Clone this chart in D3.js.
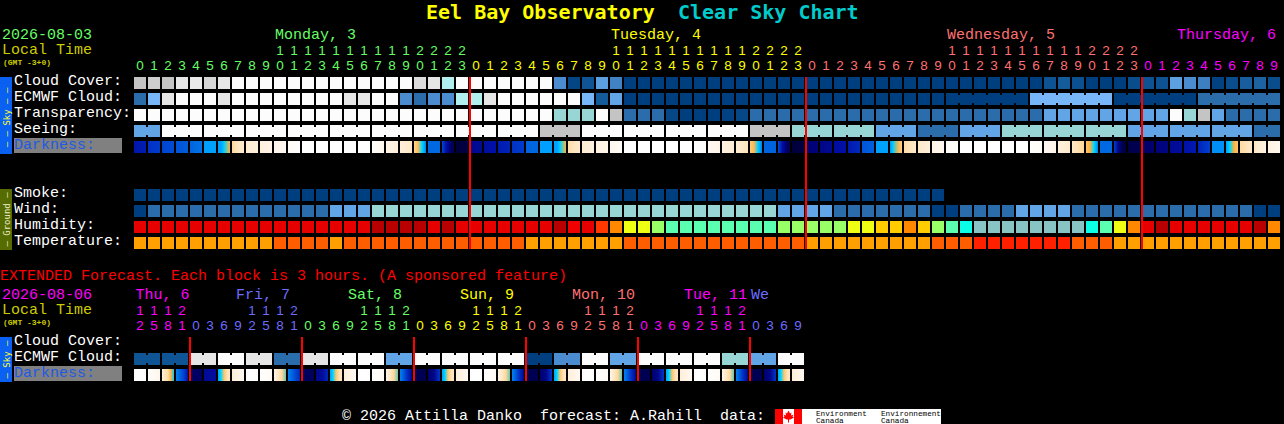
<!DOCTYPE html>
<html><head><meta charset="utf-8">
<script src="https://cdnjs.cloudflare.com/ajax/libs/d3/7.8.5/d3.min.js"></script>
<style>
html,body{margin:0;padding:0;background:#000;overflow:hidden}
svg{display:block}
text{font-family:"Liberation Mono",monospace;font-size:15px;white-space:pre}
</style></head><body>
<script>
// ---------- DATA ----------
const titleA = "Eel Bay Observatory";
const titleB = "Clear Sky Chart";
const dateMain = "2026-08-03", dateExt = "2026-08-06";
const localLabel = "Local Time", gmtLabel = "(GMT -3+0)";
const extendedNote = "EXTENDED Forecast. Each block is 3 hours. (A sponsored feature)";
const footerText = "© 2026 Attilla Danko  forecast: A.Rahill  data:";

const mainDays = ["Monday, 3","Tuesday, 4","Wednesday, 5","Thursday, 6"];
const extDays = ["Thu, 6","Fri, 7","Sat, 8","Sun, 9","Mon, 10","Tue, 11","We"];
const skyRows = ["Cloud Cover:","ECMWF Cloud:","Transparency:","Seeing:","Darkness:"];
const groundRows = ["Smoke:","Wind:","Humidity:","Temperature:"];
const extRows = ["Cloud Cover:","ECMWF Cloud:","Darkness:"];

const dayHours = [0,1,2,3,4,5,6,7,8,9,10,11,12,13,14,15,16,17,18,19,20,21,22,23];
const mainHours = [...dayHours,...dayHours,...dayHours,0,1,2,3,4,5,6,7,8,9];
const extHours = [12,15,18,21,
  0,3,6,9,12,15,18,21, 0,3,6,9,12,15,18,21, 0,3,6,9,12,15,18,21,
  0,3,6,9,12,15,18,21, 0,3,6,9,12,15,18,21, 0,3,6,9];

const cloudCover = [
 100,97,100,90,88,95,90,80,80,80,
 80,80,80,80,80,80,80,80,80,80,
 93,90,70,80,80,80,80,80,80,80,
 30,2,8,38,27,0,0,0,0,0,
 0,0,0,0,0,0,0,0,0,0,
 0,0,0,0,0,0,0,0,0,0,
 0,0,0,0,0,7,10,6,0,0,
 0,5,7,7,38,30,26,1,5,12,
 14,5];
const ecmwfCloud = [
 20,50,90,80,80,80,90,80,80,80,
 80,80,80,80,80,90,90,80,80,30,
 20,30,30,70,70,90,80,80,80,80,
 80,80,50,10,40,0,0,0,0,0,
 0,0,0,0,0,0,0,0,0,0,
 0,0,0,0,0,0,0,0,0,0,
 0,0,0,0,50,50,50,50,50,50,
 0,0,0,0,0,0,20,20,20,20,
 20,20];
const transparency = [
 80,80,80,80,80,80,80,80,80,80,
 80,80,80,80,80,80,80,80,80,80,
 80,80,80,80,80,80,80,80,80,80,
 60,60,60,80,100,20,20,20,3,0,
 0,0,1,3,20,20,20,20,20,20,
 20,20,20,20,20,20,20,20,20,20,
 20,20,20,20,20,40,40,40,40,40,
 40,40,40,40,80,60,100,40,20,20,
 20,20];
const seeing = [
 40,40,80,80,80,80,80,80,80,80,
 80,80,80,80,80,80,80,80,80,80,
 80,80,80,80,80,80,80,80,80,100,
 100,100,80,80,80,80,80,80,80,80,
 80,80,80,80,100,100,100,60,60,60,
 60,60,60,40,40,40,20,20,20,40,
 40,40,60,60,60,60,60,60,60,60,
 60,40,40,40,40,40,40,40,40,40,
 20,20];
// limiting-magnitude samples across each hourly cell
const darkness = [
 [3.9,3.7],[3.3,3.1],[2.9,2.7],[2.5,2.3],[2.1,1.8],[1,1],[1,1,0.6,0.25,0],[-1,-1.6,-2,-2.2],[-2.3,-2.6],[-2.6,-3],
 [-3,-3.4],[-3.6,-3.9],[-4],[-4],[-4],[-4],[-4],[-3.8,-3.3],[-3,-2.6],[-2.6,-2],
 [-0.9,-0.3,0.5,1.5],[2,2],[2.8,4,5,5.5],[5.8,5.7],[4.5,4.3],[4.1,4],[3.8,3.6],[3.3,3.1],[2.1,2],[1,1],
 [1,1,0.6,0.25,0],[-1.3,-1.8,-2.2],[-2.3,-2.7],[-2.8,-3.1],[-3.3,-3.7],[-4],[-4],[-4],[-4],[-4],
 [-3.9,-3.7],[-3.4,-3],[-2.8,-2.4],[-2.4,-1.8],[-0.7,-0.2,0.6,1.6],[2.1,2.1],[2.6,4,5,5.5],[5.8,5.7],[5,4.8],[4.6,4.4],
 [4.2,4],[3.8,3.5],[2.5,2.2],[1,1],[1.2,0.6,0.2,-0.2,-0.8],[-1.3,-2.2],[-2,-2.6],[-3,-3.3],[-3.5,-3.9],[-4],
 [-4],[-4],[-4],[-4],[-3.9,-3.6],[-3.4,-3],[-2.7,-2.2],[-2,-1],[-0.5,0,0.5,1.5],[2,2],
 [3,4.5,5.5,5.8],[5.6,5.5],[5.2,5],[4.8,4.7],[4.4,4.2],[4,3.8],[3.6,3],[1.3,1.3],[1,0.5,0,-0.5],[-1.2,-2],
 [-2,-2.8],[-2.8,-3.2]];

const smoke = [
 0,0,0,0,0,0,0,0,0,0, 0,0,0,0,0,0,0,0,0,0, 0,0,0,0,0,0,0,0,0,0,
 0,0,0,0,0,0,0,0,0,0, 0,0,0,0,0,0,0,0,0,0, 0,0,0,0,0,0,0,0];
const wind = [
 0,20,20,20,20,20,20,20,20,20,
 20,20,20,20,40,40,40,60,60,60,
 60,60,60,60,60,60,60,60,60,60,
 60,60,60,60,60,60,60,60,60,60,
 60,60,60,60,60,60,40,40,40,40,
 20,20,20,20,20,20,20,0,0,20,
 20,20,20,40,40,40,40,20,20,20,
 20,20,20,20,20,20,20,20,20,20,
 0,0];
const humidity = [
 95,95,95,95,95,95,95,95,95,95,
 95,95,95,95,95,95,95,100,100,100,
 100,95,100,95,95,95,95,95,95,95,
 100,92,95,85,80,70,70,65,60,60,
 60,60,60,60,60,60,65,65,65,65,
 65,70,70,75,75,80,75,65,60,55,
 50,50,50,50,50,50,50,50,55,60,
 70,80,95,100,95,95,95,95,95,95,
 100,80];
const temperature = [
 21,21,21,21,21,21,21,21,21,21,
 24,24,24,24,21,24,24,24,24,24,
 24,24,24,24,24,24,24,24,21,21,
 21,21,21,21,21,24,24,24,24,24,
 24,24,24,24,24,24,24,24,21,21,
 21,21,21,21,21,21,21,24,24,24,
 27,27,27,27,27,27,27,24,24,24,
 21,21,21,21,21,21,21,21,21,21,
 21,21];

// 6-hour blocks of the extended forecast
const extEcmwf = [8,8,90,80,90,20,90,80,80,40,80,80,80,80,0,30,80,40,80,80,80,60,40,80];
const extDarkness = [
 [-4],[-3.8,-3.2],[-2.4,-1.8,-1.2,0,0.6],[1.5,2.2,3,4],
 [5.2,5.2],[4.3,4.2],[1,0.5,-0.5,-1.5,-2],[-2.5,-3.4],
 [-4],[-4,-3.5],[-3,-2,-1,0.3],[1.5,2.5,3.5],
 [5.3,5.3],[4.5,4.3,3.5],[1,0.5,-0.5,-1.5,-2],[-2.5,-3.5],
 [-4],[-4,-3.5],[-3,-2,-1,0.3],[1.5,2.5,3.5,4.5],
 [5.5,5.5],[5,4.6,3.2],[1,0.5,-0.5,-1.5,-2],[-2.5,-3.4],
 [-4],[-4,-3.5],[-3,-2,-1,0.3],[1.5,2.5,3.5,4.5],
 [5.5,5.5],[5,4.6,3.2],[1,0.5,-0.5,-1.5,-2],[-2.5,-3.4],
 [-4],[-4,-3.5],[-3,-2,-1,0.3],[1.5,2.5,3.5,4.5],
 [5.5,5.5],[5,4.6,3.2],[1,0.5,-0.5,-1.5,-2],[-2.5,-3.4],
 [-4],[-4,-3.5],[-3,-2,-1,0.3],[1.5,2.5,3.5,4.5],
 [5.5,5.5],[5,4.6,3.2],[1,0.5,-0.5,-1.5,-2],[-2.5,-3.4]];

// ---------- SCALES ----------
const skyColor = d3.scaleLinear()
  .domain([0,10,20,30,40,50,60,70,80,90,100])
  .range(["#003f7f","#135b9b","#2b6cab","#4b8bcf","#62a5e6","#77b7f9","#98d6d6","#b2f0f0","#fcfcfc","#e6e6e6","#c4c4c4"]);
const darkColor = d3.scaleLinear()
  .domain([-4,-3,-2,-1,0,0.5,1,2,3,4,5,6])
  .range(["#ffffff","#fff4e8","#ffe8c8","#ffd898","#ffb040","#00d8ff","#00a0ff","#0068e0","#0040d0","#0010a8","#000070","#000030"]);
const humColor = d3.scaleOrdinal()
  .domain([100,95,92,85,80,75,70,65,60,55,50])
  .range(["#b80000","#e60000","#f00000","#ff3800","#ff8800","#ffcc00","#eeff14","#99ff66","#5affb0","#0affe6","#88c4c4"]);
const tempColor = d3.scaleOrdinal().domain([21,24,27]).range(["#ffa000","#ff5e00","#ff2000"]);
const dayColors = ["#66ff66","#ffff00","#ff7070","#ff00ff","#6c6cff"];

const W = 1284, H = 424;
const x = d3.scaleLinear().domain([0,1]).range([134,148]);
const cellW = x(1)-x(0)-2, cellH = 12;
const ySky = d3.scalePoint().domain(skyRows).range([77,141]);
const yGround = d3.scalePoint().domain(groundRows).range([189,237]);
const yExt = d3.scalePoint().domain(extRows).range([337,369]);

const svg = d3.select("body").append("svg").attr("width",W).attr("height",H);
const defs = svg.append("defs");

function txt(g,s,tx,ty,fill,extra){
  const t = g.append("text").attr("x",tx).attr("y",ty).attr("fill",fill).text(s);
  if(extra) extra(t);
  return t;
}

// ---------- TITLES ----------
const bold = t=>t.style("font-family","'DejaVu Sans Mono'").style("font-size","20px").style("font-weight","bold");
txt(svg,titleA,426,19,"#ffff00",bold);
txt(svg,titleB,678,19,"#00cccc",bold);

function header(date,dateCol,yDate,yLocal,yGmt){
  txt(svg,date,2,yDate,dateCol);
  txt(svg,localLabel,2,yLocal,"#cccc00");
  txt(svg,gmtLabel,3,yGmt,"#cccc00",t=>t.style("font-size","8px").style("font-weight","bold"));
}
header(dateMain,dayColors[0],39,54,65);
header(dateExt,dayColors[3],299,314,325);

// hour digits
function hourDigits(hours,colorOf,yTens,yUnits){
  const g = svg.append("g").attr("text-anchor","middle");
  g.selectAll("text.u").data(hours).join("text").attr("class","u")
    .style("font-family","'Liberation Sans'").style("font-size","13.5px")
    .attr("x",(d,i)=>x(i)+cellW/2).attr("y",yUnits).attr("fill",(d,i)=>colorOf(i)).text(d=>d%10);
  g.selectAll("text.t").data(hours.map((h,i)=>({h,i})).filter(d=>d.h>=10)).join("text").attr("class","t")
    .style("font-family","'Liberation Sans'").style("font-size","13.5px")
    .attr("x",d=>x(d.i)+cellW/2).attr("y",yTens).attr("fill",d=>colorOf(d.i)).text(d=>Math.floor(d.h/10));
}
const mainDayOf = i=>Math.floor(i/24);
const extDayOf = i=> i<4 ? 3 : [4,0,1,2,3,4][Math.floor((i-4)/8)] ;
hourDigits(mainHours,i=>dayColors[mainDayOf(i)],55,70);
hourDigits(extHours,i=>dayColors[extDayOf(i)],315,330);

// day names
mainDays.forEach((s,k)=>{
  const tx = Math.min(x(10+24*k)+1, 1276 - s.length*9);
  txt(svg,s,tx,39,dayColors[k]);
});
extDays.forEach((s,k)=>{
  const first = k===0 ? -4 : 8*k-4;
  const tx = k===extDays.length-1 ? x(first)+1 : Math.max(135.5, x(first)+46);
  txt(svg,s,tx,299,dayColors[k===0?3:extDayOf(first)]);
});

// ---------- ROW LABELS ----------
function rowLabels(rows,y,dark){
  rows.forEach(r=>{
    if(r===dark){
      svg.append("rect").attr("x",14).attr("y",y(r)-3).attr("width",108).attr("height",15).attr("fill","#808080");
      txt(svg,r,14,y(r)+8,"#1e5ae6");
    } else txt(svg,r,14,y(r)+8,"#ffffff");
  });
}
rowLabels(skyRows,ySky,"Darkness:");
rowLabels(groundRows,yGround,null);
rowLabels(extRows,yExt,"Darkness:");

// side bars
function sideBar(y0,y1,fill,label,col,shift){
  svg.append("rect").attr("x",0).attr("y",y0).attr("width",12).attr("height",y1-y0).attr("fill",fill);
  svg.append("text").attr("text-anchor","middle")
    .attr("transform",`translate(10,${(y0+y1)/2+shift}) rotate(-90)`)
    .attr("fill",col).style("font-family","'DejaVu Sans Mono'").style("font-size","9px").text(label);
}
sideBar(77,154,"#0a60f0","– – Sky – –","#ffff33",2);
sideBar(189,250,"#566b00","– Ground –","#f0f0d0",0);
sideBar(337,382,"#0a60f0","– Sky –","#ffff33",0);

// ---------- CELLS ----------
function cellRow(vals,y,color,joined){
  const g = svg.append("g");
  g.selectAll("rect.c").data(vals).join("rect").attr("class","c")
    .attr("x",(d,i)=>x(i)).attr("y",y).attr("width",cellW).attr("height",cellH).attr("fill",d=>color(d));
  if(joined){
    g.selectAll("rect.j").data(vals.map((v,i)=>({v,i})).filter(d=>d.i<vals.length-1 && joined(d.i))).join("rect").attr("class","j")
      .attr("x",d=>x(d.i)+cellW).attr("y",y+2).attr("width",x(1)-x(0)-cellW).attr("height",cellH-4).attr("fill",d=>color(d.v));
  }
}
function darkRow(vals,y,idp){
  vals.forEach((s,i)=>{
    const id = idp+i;
    const lg = defs.append("linearGradient").attr("id",id);
    s.forEach((v,k)=>lg.append("stop")
      .attr("offset",s.length>1?k/(s.length-1):0).attr("stop-color",darkColor(v)));
  });
  svg.append("g").selectAll("rect").data(vals).join("rect")
    .attr("x",(d,i)=>x(i)).attr("y",y).attr("width",cellW).attr("height",cellH)
    .attr("fill",(d,i)=>d.length>1?`url(#${idp+i})`:darkColor(d[0]));
}

cellRow(cloudCover,ySky("Cloud Cover:"),skyColor);
cellRow(ecmwfCloud,ySky("ECMWF Cloud:"),skyColor,i=>i>=58 && (i-57)%6!==0);
cellRow(transparency,ySky("Transparency:"),skyColor);
cellRow(seeing,ySky("Seeing:"),skyColor,i=>(i+1)%3!==2);
darkRow(darkness,ySky("Darkness:"),"dm");

cellRow(smoke,yGround("Smoke:"),skyColor);
cellRow(wind,yGround("Wind:"),skyColor);
cellRow(humidity,yGround("Humidity:"),humColor);
cellRow(temperature,yGround("Temperature:"),tempColor);

cellRow(extEcmwf.flatMap(v=>[v,v]),yExt("ECMWF Cloud:"),skyColor,i=>i%2===0);
darkRow(extDarkness,yExt("Darkness:"),"de");

// ---------- MIDNIGHT LINES ----------
[24,48,72].forEach(i=>svg.append("rect").attr("x",x(i)-1).attr("y",77).attr("width",2).attr("height",172).attr("fill","#ff0000"));
[4,12,20,28,36,44].forEach(i=>svg.append("rect").attr("x",x(i)-1).attr("y",337).attr("width",2).attr("height",44).attr("fill","#ff0000"));

// ---------- EXTENDED NOTE + FOOTER ----------
txt(svg,extendedNote,0,280,"#ff0000");
txt(svg,footerText,342,420,"#ffffff");

const logo = svg.append("g");
logo.append("rect").attr("x",775).attr("y",409).attr("width",166).attr("height",15).attr("fill","#ffffff");
logo.append("rect").attr("x",775).attr("y",409).attr("width",8).attr("height",15).attr("fill","#ff0000");
logo.append("rect").attr("x",794).attr("y",409).attr("width",8).attr("height",15).attr("fill","#ff0000");
logo.append("path").attr("fill","#ff0000").attr("transform","translate(788.5,416.5)")
  .attr("d","M0,-6 L1.5,-3 L3,-4 L2.5,-1 L5,-2 L4,0 L5.5,1 L2,3 L0.5,3 L0.5,6 L-0.5,6 L-0.5,3 L-2,3 L-5.5,1 L-4,0 L-5,-2 L-2.5,-1 L-3,-4 L-1.5,-3 Z");
[["Environment",816],["Environnement",881]].forEach(d=>{
  txt(logo,d[0],d[1],415.5,"#000000",t=>t.style("font-size","7.7px"));
  txt(logo,"Canada",d[1],422.5,"#000000",t=>t.style("font-size","7.7px"));
});
</script>
</body></html>
